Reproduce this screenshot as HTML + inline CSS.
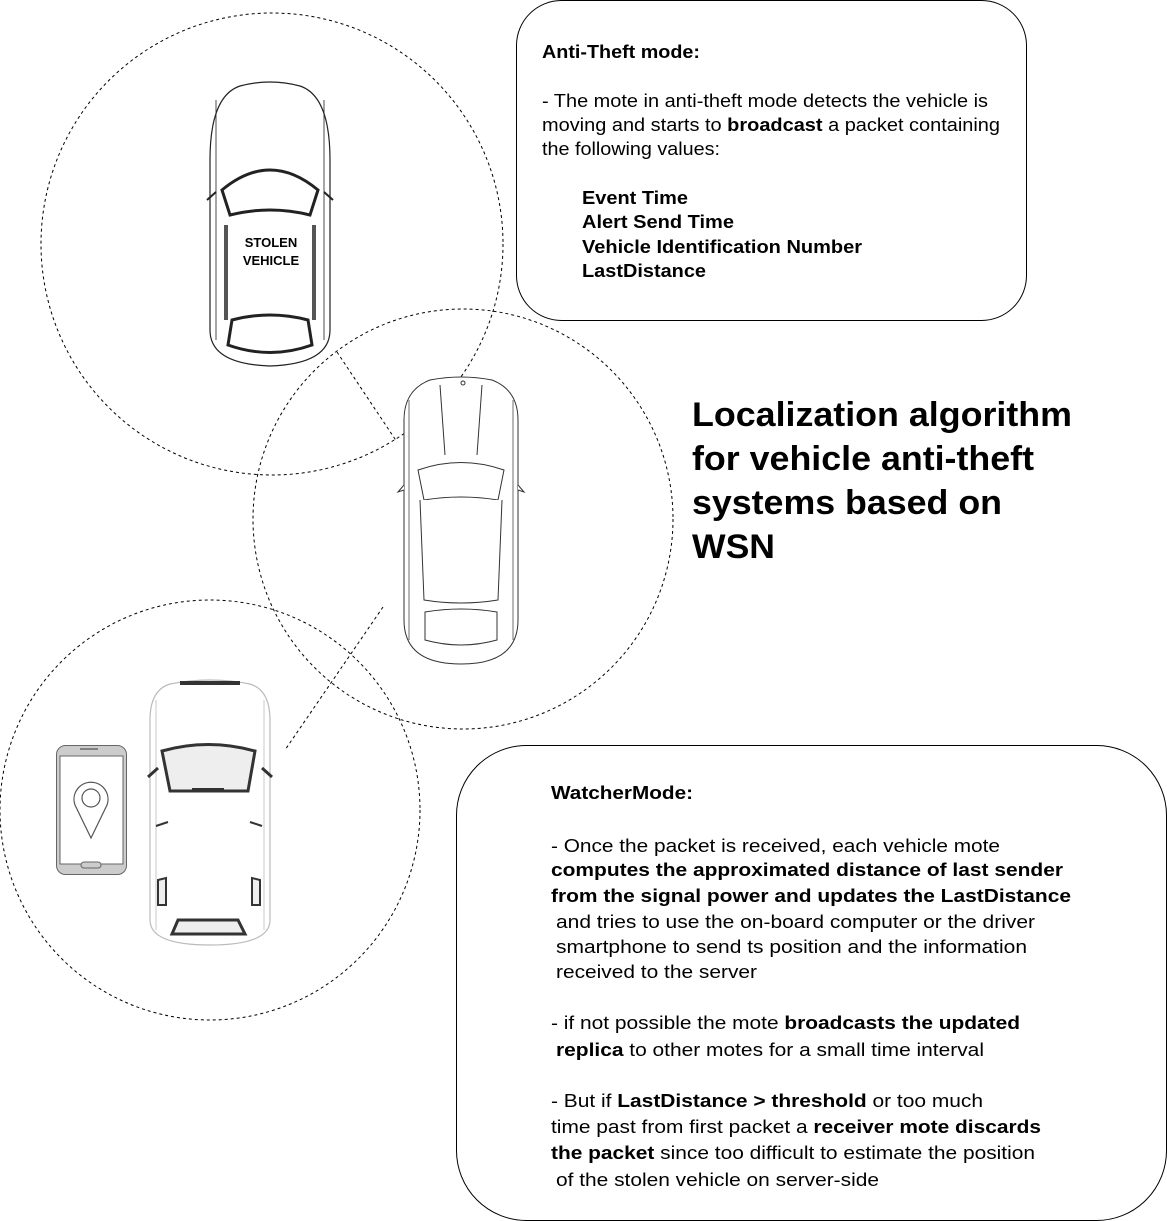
<!DOCTYPE html>
<html><head><meta charset="utf-8"><style>
html,body{margin:0;padding:0;background:#fff;}
svg{display:block;font-family:"Liberation Sans",Arial,sans-serif;}
</style></head><body>
<svg width="1167" height="1221" viewBox="0 0 1167 1221" xmlns="http://www.w3.org/2000/svg">
<g fill="none" stroke="#000" stroke-width="1" stroke-dasharray="3,3">
<circle cx="272" cy="244" r="231"/>
<circle cx="463" cy="519" r="210"/>
<circle cx="210" cy="810" r="210"/>
<line x1="337" y1="352" x2="397" y2="442"/>
<line x1="383" y1="607" x2="285" y2="750"/>
</g>
<rect x="516.5" y="0.5" width="510" height="320" rx="45" fill="#fff" stroke="#000"/>
<rect x="456.5" y="745.5" width="710" height="475" rx="70" fill="#fff" stroke="#000"/>

<!-- top car -->
<g fill="#fff" stroke="#222" stroke-width="1.2">
<path d="M240,86 Q270,78 300,86 Q330,96 330,160 L330,330 Q330,364 270,366 Q210,364 210,330 L210,160 Q210,96 240,86Z"/>
<path d="M216,100 L216,340 M324,100 L324,340" stroke-width="0.8"/>
<path d="M222,190 Q270,150 318,190 L310,215 Q270,205 230,215Z" stroke-width="3" fill="none"/>
<path d="M226,225 L226,320 M314,225 L314,320" stroke="#555" stroke-width="4"/>
<path d="M232,320 Q270,310 308,320 L312,345 Q270,360 228,345Z" stroke-width="3" fill="none"/>
<path d="M207,200 L216,192 M333,200 L324,192" stroke-width="2"/>
</g>
<text x="271" y="247" font-size="13" font-weight="bold" text-anchor="middle">STOLEN</text>
<text x="271" y="265" font-size="13" font-weight="bold" text-anchor="middle">VEHICLE</text>

<!-- middle car -->
<g fill="#fff" stroke="#333" stroke-width="1">
<path d="M430,380 Q461,374 492,380 Q518,390 518,420 L518,620 Q518,664 461,664 Q404,664 404,620 L404,420 Q404,390 430,380Z"/>
<path d="M409,400 L409,640 M513,400 L513,640" stroke-width="0.7"/>
<path d="M418,470 Q461,455 504,470 L498,500 Q461,494 424,500Z"/>
<path d="M420,500 L424,600 Q461,606 498,600 L502,500"/>
<path d="M425,612 Q461,606 497,612 L497,640 Q461,650 425,640Z"/>
<path d="M440,385 L445,455 M482,385 L477,455"/>
<path d="M404,485 L398,492 L404,490 M518,485 L524,492 L518,490"/>
<circle cx="463" cy="383" r="2"/>
</g>

<!-- bottom car -->
<g fill="#fff" stroke="#bbb" stroke-width="1.2">
<path d="M170,684 Q210,676 250,684 Q270,690 270,720 L270,920 Q270,945 210,945 Q150,945 150,920 L150,720 Q150,690 170,684Z"/>
<path d="M156,700 L156,930 M264,700 L264,930" stroke-width="0.8"/>
</g>
<g stroke="#333" stroke-width="3" fill="#eee">
<path d="M162,751 Q208,738 255,751 L248,791 L170,791Z"/>
<path d="M178,920 L238,920 L245,934 L172,934Z"/>
<path d="M180,683 L240,683" fill="none" stroke-width="4"/>
<path d="M148,777 L158,768 M272,777 L262,768" fill="none"/>
<path d="M192,790 L224,790" fill="none" stroke-width="4"/>
<path d="M156,826 L168,822 M262,826 L250,822 M158,880 L166,878 L166,905 L158,905Z M260,880 L252,878 L252,905 L260,905Z" stroke-width="2"/>
</g>

<!-- phone -->
<g>
<rect x="56.5" y="745.5" width="70" height="129" rx="9" fill="#ccc" stroke="#666"/>
<rect x="60" y="756" width="63" height="108" fill="#fff" stroke="#666"/>
<rect x="81" y="862" width="20" height="6" rx="3" fill="#ccc" stroke="#666"/>
<line x1="80" y1="749" x2="98" y2="749" stroke="#666" stroke-width="1.5"/>
<path d="M91,838 L75,805 A17,17 0 1 1 107,805 Z" fill="#fff" stroke="#555" stroke-width="1.2"/>
<circle cx="91" cy="798" r="9" fill="#fff" stroke="#555" stroke-width="1.2"/>
</g>

<!-- title -->
<g font-size="34" font-weight="bold">
<text x="692" y="426" textLength="380" lengthAdjust="spacingAndGlyphs">Localization algorithm</text>
<text x="692" y="470" textLength="342" lengthAdjust="spacingAndGlyphs">for vehicle anti-theft</text>
<text x="692" y="514" textLength="310" lengthAdjust="spacingAndGlyphs">systems based on</text>
<text x="692" y="558" textLength="83" lengthAdjust="spacingAndGlyphs">WSN</text>
</g>

<!-- top box text -->
<g font-size="18">
<text x="542" y="58" font-weight="bold" textLength="158" lengthAdjust="spacingAndGlyphs">Anti-Theft mode:</text>
<text x="542" y="107" textLength="446" lengthAdjust="spacingAndGlyphs">- The mote in anti-theft mode detects the vehicle is</text>
<text x="542" y="131" textLength="458" lengthAdjust="spacingAndGlyphs">moving and starts to <tspan font-weight="bold">broadcast</tspan> a packet containing</text>
<text x="542" y="155" textLength="178" lengthAdjust="spacingAndGlyphs">the following values:</text>
<g font-weight="bold">
<text x="582" y="204" textLength="106" lengthAdjust="spacingAndGlyphs">Event Time</text>
<text x="582" y="228" textLength="152" lengthAdjust="spacingAndGlyphs">Alert Send Time</text>
<text x="582" y="253" textLength="280" lengthAdjust="spacingAndGlyphs">Vehicle Identification Number</text>
<text x="582" y="277" textLength="124" lengthAdjust="spacingAndGlyphs">LastDistance</text>
</g>
</g>

<!-- bottom box text -->
<g font-size="18">
<text x="551" y="799" font-weight="bold" textLength="142" lengthAdjust="spacingAndGlyphs">WatcherMode:</text>
<text x="551" y="852" textLength="449" lengthAdjust="spacingAndGlyphs">- Once the packet is received, each vehicle mote</text>
<text x="551" y="876" font-weight="bold" textLength="512" lengthAdjust="spacingAndGlyphs">computes the approximated distance of last sender</text>
<text x="551" y="902" font-weight="bold" textLength="520" lengthAdjust="spacingAndGlyphs">from the signal power and updates the LastDistance</text>
<text x="556" y="928" textLength="479" lengthAdjust="spacingAndGlyphs">and tries to use the on-board computer or the driver</text>
<text x="556" y="953" textLength="471" lengthAdjust="spacingAndGlyphs">smartphone to send ts position and the information</text>
<text x="556" y="978" textLength="201" lengthAdjust="spacingAndGlyphs">received to the server</text>
<text x="551" y="1029" textLength="469" lengthAdjust="spacingAndGlyphs">- if not possible the mote <tspan font-weight="bold">broadcasts the updated</tspan></text>
<text x="556" y="1056" textLength="428" lengthAdjust="spacingAndGlyphs"><tspan font-weight="bold">replica</tspan> to other motes for a small time interval</text>
<text x="551" y="1107" textLength="432" lengthAdjust="spacingAndGlyphs">- But if <tspan font-weight="bold">LastDistance &gt; threshold</tspan> or too much</text>
<text x="551" y="1133" textLength="490" lengthAdjust="spacingAndGlyphs">time past from first packet a <tspan font-weight="bold">receiver mote discards</tspan></text>
<text x="551" y="1159" textLength="484" lengthAdjust="spacingAndGlyphs"><tspan font-weight="bold">the packet</tspan> since too difficult to estimate the position</text>
<text x="556" y="1186" textLength="323" lengthAdjust="spacingAndGlyphs">of the stolen vehicle on server-side</text>
</g>
</svg>
</body></html>
